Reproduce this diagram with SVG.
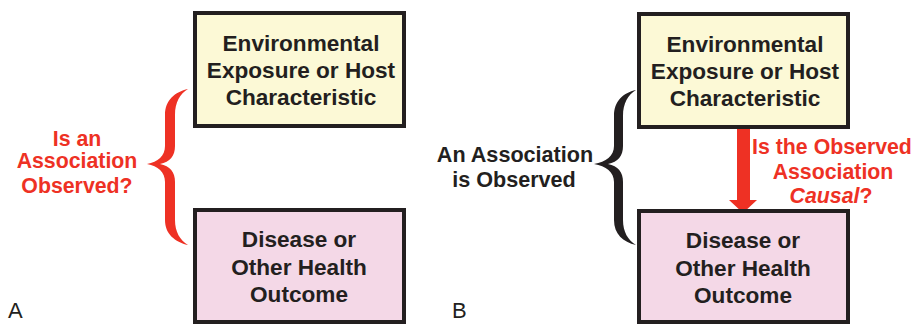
<svg xmlns="http://www.w3.org/2000/svg" width="915" height="324" viewBox="0 0 915 324">
<style>
.box{stroke:#231f20;stroke-width:4}
.exp{fill:#fcf9d6}
.dis{fill:#f4d8e7}
.t{font-family:"Liberation Sans",Arial,sans-serif;font-weight:bold;font-size:21.3px;text-anchor:middle;fill:#231f20}
.b{font-size:22.6px}
.r{fill:#ee3124}
.lab{font-family:"Liberation Sans",Arial,sans-serif;font-size:22px;fill:#231f20}
</style>
<rect width="915" height="324" fill="#ffffff"/>
<g id="connectors">
<path id="braceA" fill="#ee3124" d="M188,89 C175,92 165,100 165,115 L165,146 C165,156 158,162 147,164 C158,166 165,172 165,182 L165,220 C165,234 175,242 188,245 C180,240 175,232 175,220 L175,182 C175,172 170,166 160,164 C170,162 175,156 175,146 L175,115 C175,102 180,94 188,89 Z"/>
<path id="braceB" fill="#231f20" d="M636,90 C623,93 614,101 614,116 L614,146 C614,156 606,162 594,164 C606,166 614,172 614,182 L614,220 C614,234 623,242 636,245 C628,240 623,232 623,220 L623,182 C623,172 618,166 608,164 C618,162 623,156 623,146 L623,116 C623,103 628,95 636,90 Z"/>
<path id="arrowB" fill="#ee3124" d="M737,128 L750,128 L750,200 L757,200 L743,213 L729,200 L737,200 Z"/>
</g>
<g id="nodeA1">
<rect class="box exp" x="195" y="13" width="209" height="113"/>
<text class="t b" x="301" y="51">Environmental</text>
<text class="t b" x="301" y="78">Exposure or Host</text>
<text class="t b" x="301" y="105">Characteristic</text>
</g>
<g id="nodeA2">
<rect class="box dis" x="195" y="210" width="209" height="112"/>
<text class="t b" x="299" y="247">Disease or</text>
<text class="t b" x="299" y="275">Other Health</text>
<text class="t b" x="299" y="302">Outcome</text>
</g>
<g id="labelA">
<text class="t r" x="77" y="146">Is an</text>
<text class="t r" x="77" y="168">Association</text>
<text class="t r" x="77" y="193">Observed?</text>
</g>
<g id="nodeB1">
<rect class="box exp" x="639" y="14" width="209" height="113"/>
<text class="t b" x="745" y="52">Environmental</text>
<text class="t b" x="745" y="79">Exposure or Host</text>
<text class="t b" x="745" y="106">Characteristic</text>
</g>
<g id="nodeB2">
<rect class="box dis" x="639" y="211" width="209" height="111"/>
<text class="t b" x="743" y="248">Disease or</text>
<text class="t b" x="743" y="276">Other Health</text>
<text class="t b" x="743" y="303">Outcome</text>
</g>
<g id="labelB">
<text class="t" x="515" y="162" style="font-size:21.6px">An Association</text>
<text class="t" x="514" y="187" style="font-size:21.6px">is Observed</text>
</g>
<g id="labelArrow">
<text class="t r" x="832" y="154">Is the Observed</text>
<text class="t r" x="833" y="179">Association</text>
<text class="t r" x="831" y="203"><tspan font-style="italic">Causal</tspan>?</text>
</g>
<text class="lab" x="8" y="318">A</text>
<text class="lab" x="452" y="318">B</text>
</svg>
